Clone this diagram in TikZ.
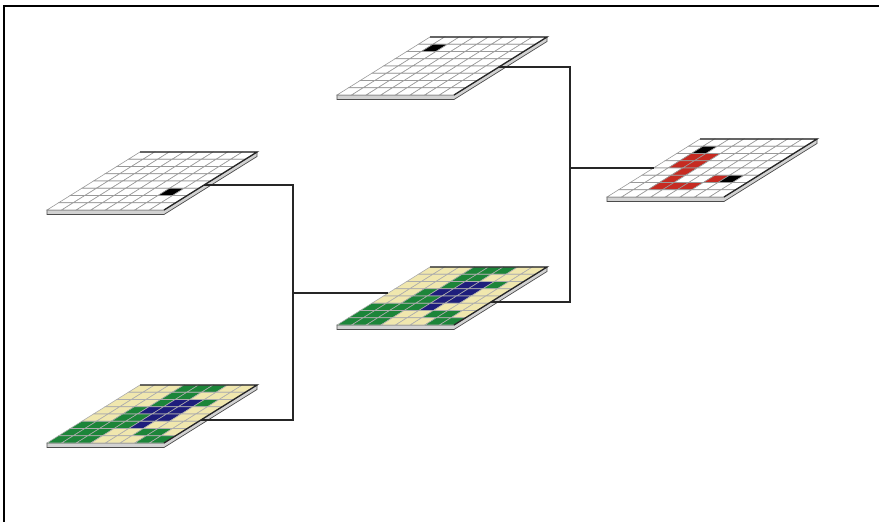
\documentclass[tikz,border=0pt]{standalone}
\usepackage{xcolor}
\usepackage{tikz}
\usetikzlibrary{calc}

\definecolor{W}{HTML}{FFFFFF}
\definecolor{K}{HTML}{000000}
\definecolor{R}{HTML}{C62B22}
\definecolor{Y}{HTML}{F0E7AE}
\definecolor{G}{HTML}{1C8539}
\definecolor{B}{HTML}{1E1E7C}

% one raster layer: name, lower left corner, grid colour, rows from top to bottom
\newcommand{\layer}[4]{%
  \begin{scope}[shift={#2}, x={(14.625pt,0pt)}, y={(11.625pt,7.25pt)}]
    \filldraw[slab] (0,0) -- ++(0pt,-4.5pt) -- ++(117pt,0pt) -- ++(93pt,58pt) -- (8,8) -- (8,0) -- cycle;
    \foreach \row [count=\k] in {#4}
      \foreach \c [count=\i from 0] in \row
        \filldraw[cell, draw=#3, fill=\c] (\i,{8-\k}) -- ++(1,0) -- ++(0,1) -- ++(-1,0) -- cycle;
    \draw[rim] (0,8) -- (8,8) -- (8,0);
    \coordinate (#1-sw) at (0,0);
    \coordinate (#1-nw) at (0,8);
    \coordinate (#1-se) at (8,0);
    \coordinate (#1-ne) at (8,8);
  \end{scope}}

\begin{document}
\begin{tikzpicture}[
  x=1pt, y=-1pt,
  slab/.style={fill=gray!35, draw=gray!60!black, line width=0.7pt},
  cell/.style={line width=0.6pt},
  rim/.style={line width=1.3pt, draw=black!85},
  link/.style={line width=1.5pt, draw=black!85},
  frame/.style={line width=1.6pt, draw=black}
]
\useasboundingbox (0,0) rectangle (879,522);
\draw[frame] (4,522) -- (4,6) -- (879,6);

% start and end points
\layer{A}{(47,210)}{gray!80}{
  {W,W,W,W,W,W,W,W},{W,W,W,W,W,W,W,W},{W,W,W,W,W,W,W,W},{W,W,W,W,W,W,W,W},
  {W,W,W,W,W,W,W,W},{W,W,W,W,W,W,K,W},{W,W,W,W,W,W,W,W},{W,W,W,W,W,W,W,W}}
\layer{B}{(337,95)}{gray!80}{
  {W,W,W,W,W,W,W,W},{W,K,W,W,W,W,W,W},{W,W,W,W,W,W,W,W},{W,W,W,W,W,W,W,W},
  {W,W,W,W,W,W,W,W},{W,W,W,W,W,W,W,W},{W,W,W,W,W,W,W,W},{W,W,W,W,W,W,W,W}}

% cost surfaces
\layer{E}{(47,443)}{gray!65}{
  {Y,Y,Y,G,G,G,Y,Y},{Y,Y,Y,G,G,Y,Y,Y},{Y,Y,Y,G,B,B,G,Y},{Y,Y,G,B,B,B,Y,Y},
  {Y,Y,G,G,B,B,Y,Y},{G,G,G,G,B,Y,Y,Y},{G,G,G,Y,Y,G,G,Y},{G,G,G,Y,Y,Y,G,G}}
\layer{D}{(337,325)}{gray!65}{
  {Y,Y,Y,G,G,G,Y,Y},{Y,Y,Y,G,G,Y,Y,Y},{Y,Y,Y,G,B,B,G,Y},{Y,Y,G,B,B,B,Y,Y},
  {Y,Y,G,G,B,B,Y,Y},{G,G,G,G,B,Y,Y,Y},{G,G,G,Y,Y,G,G,Y},{G,G,G,Y,Y,Y,G,G}}

% least cost path
\layer{C}{(607,197)}{gray!80}{
  {W,W,W,W,W,W,W,W},{W,K,W,W,W,W,W,W},{W,R,R,W,W,W,W,W},{W,R,R,W,W,W,W,W},
  {W,W,R,W,W,W,W,W},{W,W,R,W,W,R,K,W},{W,W,R,R,R,W,W,W},{W,W,W,W,W,W,W,W}}

\coordinate (j1) at (293,0);
\coordinate (j2) at (570,0);
\coordinate (A-out) at ($(A-se)!0.43!(A-ne)$);
\coordinate (E-out) at ($(E-se)!0.40!(E-ne)$);
\coordinate (D-in) at ($(D-sw)!0.55!(D-nw)$);
\coordinate (D-out) at ($(D-se)!0.40!(D-ne)$);
\coordinate (B-out) at ($(B-se)!0.48!(B-ne)$);
\coordinate (C-in) at ($(C-sw)!0.50!(C-nw)$);

\draw[link] (A-out) -- (A-out -| j1) -- (E-out -| j1) -- (E-out);
\draw[link] (D-in) -- (D-in -| j1);
\draw[link] (B-out) -- (B-out -| j2) -- (D-out -| j2) -- (D-out);
\draw[link] (C-in) -- (C-in -| j2);
\end{tikzpicture}
\end{document}
